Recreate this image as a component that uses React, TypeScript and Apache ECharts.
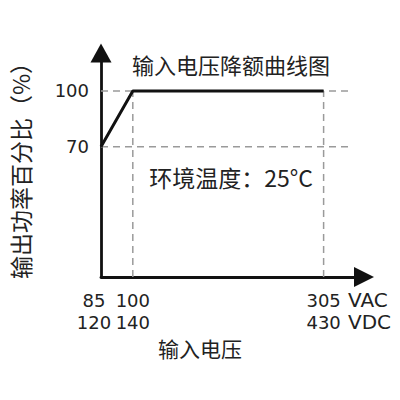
import React, { useEffect, useRef } from "react";
import * as echarts from "echarts";

// voltage axis is schematic, not to scale: 85/100/305 VAC sit at these positions
const xPositions = [0, 1, 7];
const vacLabels = ["85", "100", "305"];
const vdcLabels = ["120", "140", "430"];
const outputPower = [70, 100, 100];
const yTicks = [70, 100];

const CJK = '"Noto Sans CJK SC", sans-serif';
const LATIN = '"DejaVu Sans", sans-serif';

const App: React.FC = () => {
  const chartRef = useRef<HTMLDivElement>(null);

  useEffect(() => {
    if (!chartRef.current) return;
    const chart = echarts.init(chartRef.current, undefined, { renderer: "svg" });

    const guideEnd = 7.83;
    const xMax = 8.27;
    const dashed = { color: "#9a9a9a", width: 1.5, type: [7, 5] as any };
    const guides: any[] = [];
    yTicks.forEach((t) => {
      guides.push({
        type: "line",
        data: [[0, t], [guideEnd, t]],
        symbol: "none",
        silent: true,
        lineStyle: dashed,
        z: 1,
      });
    });
    xPositions.slice(1).forEach((x, i) => {
      guides.push({
        type: "line",
        data: [[x, 0], [x, outputPower[i + 1]]],
        symbol: "none",
        silent: true,
        lineStyle: dashed,
        z: 1,
      });
    });

    const labelText = (v: number) => {
      const i = xPositions.indexOf(v);
      return i < 0 ? "" : `{n|${vacLabels[i]}}\n{n|${vdcLabels[i]}}`;
    };
    const rich = (pad: number[]) => ({
      n: { fontFamily: LATIN, fontSize: 18, lineHeight: 22, color: "#222", padding: pad },
    });

    const option: any = {
      animation: false,
      grid: { left: 97, right: 36, top: 53, bottom: 123 },
      xAxis: [
        {
          type: "value",
          min: 0,
          max: xMax,
          position: "bottom",
          splitLine: { show: false },
          axisTick: { show: false },
          axisLine: {
            lineStyle: { color: "#111", width: 2.8 },
            symbol: ["none", "triangle"],
            symbolSize: [20, 20],
          },
          axisLabel: {
            customValues: xPositions.slice(1),
            margin: 12,
            formatter: labelText,
            rich: rich([0, 0, 0, 0]),
          },
        },
        {
          // lowest input voltage label, set a little left of the corner
          type: "value",
          min: 0,
          max: xMax,
          position: "bottom",
          splitLine: { show: false },
          axisTick: { show: false },
          axisLine: { show: false },
          axisLabel: {
            customValues: xPositions.slice(0, 1),
            showMinLabel: true,
            margin: 12,
            formatter: labelText,
            rich: rich([0, 14, 0, 0]),
          },
        },
      ],
      yAxis: {
        type: "value",
        min: 0,
        max: 120.4,
        splitLine: { show: false },
        axisTick: { show: false },
        axisLine: {
          lineStyle: { color: "#111", width: 2.8 },
          symbol: ["none", "triangle"],
          symbolSize: [21, 19],
        },
        axisLabel: {
          customValues: yTicks,
          margin: 12,
          color: "#222",
          fontFamily: LATIN,
          fontSize: 18,
        },
        name: "输出功率百分比（%）",
        nameLocation: "middle",
        nameRotate: 90,
        nameGap: 70,
        nameTextStyle: { color: "#222", fontFamily: CJK, fontSize: 23 },
      },
      series: [
        ...guides,
        {
          type: "line",
          data: xPositions.map((x, i) => [x, outputPower[i]]),
          symbol: "none",
          lineStyle: { color: "#111", width: 3 },
          z: 3,
        },
      ],
      graphic: [
        {
          type: "text",
          x: 231,
          y: 64,
          style: {
            text: "输入电压降额曲线图",
            fill: "#222",
            font: `22px ${CJK}`,
            textAlign: "center",
            textVerticalAlign: "middle",
          },
        },
        {
          type: "text",
          x: 231,
          y: 177,
          style: {
            text: "环境温度：25°C",
            fill: "#222",
            font: `23px ${CJK}`,
            textAlign: "center",
            textVerticalAlign: "middle",
          },
        },
        {
          type: "text",
          x: 348,
          y: 311,
          style: {
            text: "VAC\nVDC",
            fill: "#222",
            font: `20px ${LATIN}`,
            lineHeight: 22,
            textAlign: "left",
            textVerticalAlign: "middle",
          },
        },
        {
          type: "text",
          x: 200,
          y: 348,
          style: {
            text: "输入电压",
            fill: "#222",
            font: `21px ${CJK}`,
            textAlign: "center",
            textVerticalAlign: "middle",
          },
        },
      ],
    };

    chart.setOption(option);
    return () => {
      chart.dispose();
    };
  }, []);

  return (
    <div
      ref={chartRef}
      style={{ position: "fixed", left: 0, top: 0, width: 400, height: 400, background: "#fff" }}
    />
  );
};

export default App;
